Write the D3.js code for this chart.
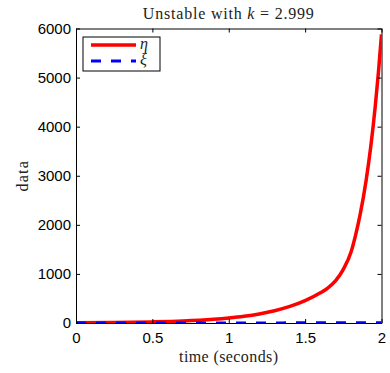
<!DOCTYPE html>
<html><head><meta charset="utf-8">
<script src="https://cdn.jsdelivr.net/npm/d3@7"></script>
<style>body{margin:0;background:#fff}svg{display:block}</style>
</head><body>
<script>
const time = [0, 0.25, 0.5, 0.7, 0.9, 1.0, 1.1, 1.2, 1.3, 1.4, 1.5, 1.6, 1.65, 1.7, 1.75, 1.8, 1.83, 1.86, 1.9, 1.93, 1.96, 1.98, 2.0];
const eta  = [4, 10, 22, 40, 75, 102, 137, 185, 250, 338, 455, 615, 715, 861, 1092, 1440, 1786, 2207, 2920, 3600, 4445, 5112, 5880];
const xi   = [0, 0, 1, 1, 1, 2, 2, 2, 2, 3, 3, 3, 3, 4, 4, 4, 4, 4, 5, 5, 5, 6, 6];
const xTicks = [0, 0.5, 1, 1.5, 2];
const yTicks = [0, 1000, 2000, 3000, 4000, 5000, 6000];
const seriesNames = ["\u03b7", "\u03be"];

const W = 390, H = 373;
const L = 76, R = 381.5, T = 28.5, B = 323;
const svg = d3.select("body").append("svg").attr("width", W).attr("height", H);
const x = d3.scaleLinear().domain([0, 2]).range([L, R]);
const y = d3.scaleLinear().domain([0, 6000]).range([B, T]);

const line = (vals) => d3.line().x((d, i) => x(time[i])).y(d => y(d)).curve(d3.curveMonotoneX)(vals);

svg.append("clipPath").attr("id", "c").append("rect").attr("x", L).attr("y", T - 2).attr("width", R - L).attr("height", B - T + 2);

const g = svg.append("g").attr("clip-path", "url(#c)");
g.append("path").attr("d", line(eta)).attr("fill", "none").attr("stroke", "#ff0000").attr("stroke-width", 3.5);
g.append("path").attr("d", line(xi)).attr("fill", "none").attr("stroke", "#0000ff").attr("stroke-width", 3).attr("stroke-dasharray", "10,10");

// axes
const font = "'Liberation Sans', Arial, sans-serif";
const xb = svg.append("g").attr("transform", `translate(0,${B})`)
  .call(d3.axisBottom(x).tickValues(xTicks).tickSizeInner(-4).tickSizeOuter(0).tickPadding(9).tickFormat(d3.format("")));
const xt = svg.append("g").attr("transform", `translate(0,${T})`)
  .call(d3.axisTop(x).tickValues(xTicks).tickSizeInner(-4).tickSizeOuter(0).tickFormat(""));
const yl = svg.append("g").attr("transform", `translate(${L},0)`)
  .call(d3.axisLeft(y).tickValues(yTicks).tickSizeInner(-4).tickSizeOuter(0).tickPadding(5).tickFormat(d3.format("")));
const yr = svg.append("g").attr("transform", `translate(${R},0)`)
  .call(d3.axisRight(y).tickValues(yTicks).tickSizeInner(-4).tickSizeOuter(0).tickFormat(""));
[xb, xt, yl, yr].forEach(a => {
  a.selectAll(".domain").attr("stroke", "#000").attr("stroke-width", 1);
  a.selectAll(".tick line").attr("stroke", "#000");
  a.selectAll("text").attr("font-family", font).attr("font-size", 15).attr("fill", "#000");
});
xb.selectAll("text").attr("dy", "0.71em");

// title
const serif = "'Liberation Serif', 'Times New Roman', serif";
const title = svg.append("text").attr("x", (L + R) / 2).attr("y", 19).attr("text-anchor", "middle")
  .attr("font-family", serif).attr("font-size", 16).attr("letter-spacing", 0.8).attr("fill", "#222");
title.append("tspan").text("Unstable with ");
title.append("tspan").attr("font-style", "italic").text("k");
title.append("tspan").text(" = 2.999");

svg.append("text").attr("x", (L + R) / 2).attr("y", 362).attr("text-anchor", "middle")
  .attr("font-family", serif).attr("font-size", 16).attr("letter-spacing", 0.4).attr("fill", "#222").text("time (seconds)");
svg.append("text").attr("transform", `translate(28,${(T + B) / 2}) rotate(-90)`).attr("text-anchor", "middle")
  .attr("font-family", serif).attr("font-size", 16).attr("letter-spacing", 1.2).attr("fill", "#222").text("data");

// legend
const lg = svg.append("g");
lg.append("rect").attr("x", 83).attr("y", 37).attr("width", 77).attr("height", 34)
  .attr("fill", "#fff").attr("stroke", "#000").attr("stroke-width", 1);
const colors = ["#ff0000", "#0000ff"], dashes = [null, "10,10"], widths = [3.5, 3];
seriesNames.forEach((n, i) => {
  const yy = 45 + i * 16;
  lg.append("line").attr("x1", 91).attr("x2", 136).attr("y1", yy).attr("y2", yy)
    .attr("stroke", colors[i]).attr("stroke-width", widths[i]).attr("stroke-dasharray", dashes[i]);
  lg.append("text").attr("x", 140).attr("y", yy + 4).attr("font-family", serif).attr("font-style", "italic")
    .attr("font-size", 16).attr("fill", "#222").text(n);
});
</script>
</body></html>
